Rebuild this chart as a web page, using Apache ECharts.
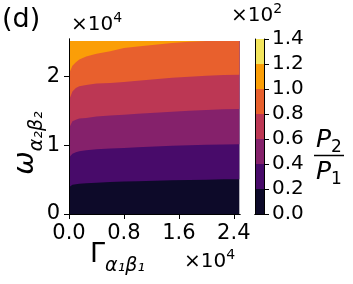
<!DOCTYPE html>
<html>
<head>
<meta charset="utf-8">
<script src="https://cdn.jsdelivr.net/npm/echarts@6/dist/echarts.min.js"></script>
<style>
  html, body { margin: 0; padding: 0; background: #fff; }
  #chart { width: 353px; height: 284px; }
</style>
</head>
<body>
<div id="chart"></div>
<script>
// Γ (x, units of 1e4) where each contour edge was read
const gamma = [0, 0.02, 0.05, 0.1, 0.15, 0.25, 0.4, 0.6, 0.8, 1.0, 1.25, 1.5, 1.75, 2.0, 2.25, 2.48];
// ω (y, units of 1e4) of the contour edges P2/P1 = 0.2 ... 1.0 (x1e2)
const edge02 = [0.39, 0.41, 0.425, 0.435, 0.44, 0.448, 0.455, 0.465, 0.472, 0.478, 0.485, 0.49, 0.495, 0.5, 0.505, 0.508];
const edge04 = [0.81, 0.845, 0.878, 0.9, 0.913, 0.93, 0.945, 0.955, 0.962, 0.972, 0.982, 0.993, 1.0, 1.008, 1.014, 1.018];
const edge06 = [1.26, 1.29, 1.35, 1.375, 1.39, 1.4, 1.42, 1.435, 1.445, 1.46, 1.475, 1.49, 1.505, 1.515, 1.525, 1.53];
const edge08 = [1.66, 1.71, 1.785, 1.835, 1.86, 1.88, 1.9, 1.91, 1.925, 1.94, 1.965, 1.985, 2.0, 2.013, 2.025, 2.03];
const edge10 = [2.05, 2.09, 2.16, 2.21, 2.25, 2.295, 2.335, 2.37, 2.42, 2.44, 2.465, 2.49, 2.51, 2.52, 2.52, 2.52];
const omegaTop = 2.52;
const levels = [0, 0.2, 0.4, 0.6, 0.8, 1.0, 1.2, 1.4];
const colors = ['#0d0a29', '#480b6a', '#85216b', '#bc3754', '#e8602d', '#fb9e07', '#f3e55d'];
const xTicks = [0, 0.8, 1.6, 2.4];
const yTicks = [0, 1, 2];

const FONT = 'DejaVu Sans';
const chart = echarts.init(document.getElementById('chart'));

const edges = [gamma.map(() => 0), edge02, edge04, edge06, edge08, edge10];
const fieldSeries = edges.map((e, i) => ({
  type: 'line',
  xAxisIndex: 0,
  yAxisIndex: 0,
  data: gamma.map((g, j) => [g, e[j]]),
  showSymbol: false,
  silent: true,
  lineStyle: { width: 0 },
  areaStyle: { color: colors[i], opacity: 1, origin: omegaTop },
  z: 2
}));

const barSeries = colors.map((c, i) => ({
  type: 'bar',
  xAxisIndex: 2,
  yAxisIndex: 2,
  stack: 'cb',
  data: [levels[i + 1] - levels[i]],
  barWidth: '100%',
  itemStyle: { color: c },
  silent: true,
  z: 2
}));

const lineOnly = { show: true, lineStyle: { color: '#000', width: 1 } };

// offset text like "×10⁴"
function offsetText(x, y, exp) {
  return {
    type: 'text', x: x, y: y,
    style: {
      text: '{b|×10}{s|' + exp + '}', fill: '#000',
      rich: {
        b: { fontSize: 20, fontFamily: FONT, lineHeight: 24, verticalAlign: 'bottom' },
        s: { fontSize: 14, fontFamily: FONT, lineHeight: 24, verticalAlign: 'top' }
      }
    }
  };
}

chart.setOption({
  animation: false,
  textStyle: { fontFamily: FONT },
  grid: [
    { left: 69, top: 39, width: 171, height: 175 },
    { left: 255, top: 39, width: 9, height: 175 }
  ],
  xAxis: [
    {
      type: 'value', gridIndex: 0, min: 0, max: 2.49, position: 'bottom', z: 10,
      axisLine: lineOnly,
      axisTick: { show: true, length: 5, lineStyle: { color: '#000' }, customValues: xTicks },
      axisLabel: { color: '#000', fontSize: 21, margin: 9, customValues: xTicks, formatter: v => v.toFixed(1) },
      splitLine: { show: false }
    },
    {
      type: 'value', gridIndex: 0, min: 0, max: 2.49, position: 'top', z: 10,
      axisLine: lineOnly, axisTick: { show: false }, axisLabel: { show: false }, splitLine: { show: false }
    },
    {
      type: 'category', gridIndex: 1, data: [''], position: 'bottom', z: 10,
      axisLine: lineOnly, axisTick: { show: false }, axisLabel: { show: false }
    },
    {
      type: 'category', gridIndex: 1, data: [''], position: 'top', z: 10,
      axisLine: lineOnly, axisTick: { show: false }, axisLabel: { show: false }
    }
  ],
  yAxis: [
    {
      type: 'value', gridIndex: 0, min: 0, max: 2.55, position: 'left', z: 10,
      axisLine: lineOnly,
      axisTick: { show: true, length: 5, lineStyle: { color: '#000' }, customValues: yTicks },
      axisLabel: { color: '#000', fontSize: 21, margin: 9, customValues: yTicks },
      splitLine: { show: false }
    },
    {
      type: 'value', gridIndex: 0, min: 0, max: 2.55, position: 'right', z: 10,
      axisLine: lineOnly, axisTick: { show: false }, axisLabel: { show: false }, splitLine: { show: false }
    },
    {
      type: 'value', gridIndex: 1, min: 0, max: 1.4, position: 'right', z: 10,
      axisLine: lineOnly,
      axisTick: { show: true, length: 5, lineStyle: { color: '#000' }, customValues: levels },
      axisLabel: { color: '#000', fontSize: 20, margin: 8, customValues: levels, formatter: v => v.toFixed(1) },
      splitLine: { show: false }
    },
    {
      type: 'value', gridIndex: 1, min: 0, max: 1.4, position: 'left', z: 10,
      axisLine: lineOnly, axisTick: { show: false }, axisLabel: { show: false }, splitLine: { show: false }
    }
  ],
  graphic: [
    { type: 'text', left: 2, top: 6, style: { text: '(d)', font: '27px "DejaVu Sans"', fill: '#000' } },
    offsetText(71, 11, '4'),
    offsetText(184, 248, '4'),
    offsetText(231, 2, '2'),
    {
      type: 'text', x: 90, y: 241,
      style: {
        text: '{g|Γ}{s|α₁β₁}', fill: '#000',
        rich: {
          g: { fontSize: 27, fontFamily: FONT, lineHeight: 35, verticalAlign: 'top' },
          s: { fontSize: 19, fontFamily: FONT, fontStyle: 'italic', lineHeight: 35, verticalAlign: 'bottom' }
        }
      }
    },
    {
      type: 'text', x: 29, y: 143, rotation: Math.PI / 2,
      style: {
        text: '{g|ω}{s|α₂β₂}', fill: '#000', align: 'center', verticalAlign: 'middle',
        rich: {
          g: { fontSize: 28, fontFamily: FONT, fontStyle: 'italic', lineHeight: 35, verticalAlign: 'top' },
          s: { fontSize: 19, fontFamily: FONT, fontStyle: 'italic', lineHeight: 35, verticalAlign: 'bottom' }
        }
      }
    },
    {
      type: 'text', x: 316, y: 128,
      style: {
        text: '{p|P}{s|2}', fill: '#000',
        rich: {
          p: { fontSize: 25, fontFamily: FONT, fontStyle: 'italic', lineHeight: 28, verticalAlign: 'top' },
          s: { fontSize: 17, fontFamily: FONT, lineHeight: 28, verticalAlign: 'bottom' }
        }
      }
    },
    { type: 'line', shape: { x1: 314, y1: 155.5, x2: 344, y2: 155.5 }, style: { stroke: '#000', lineWidth: 1.5 } },
    {
      type: 'text', x: 316, y: 160,
      style: {
        text: '{p|P}{s|1}', fill: '#000',
        rich: {
          p: { fontSize: 25, fontFamily: FONT, fontStyle: 'italic', lineHeight: 28, verticalAlign: 'top' },
          s: { fontSize: 17, fontFamily: FONT, lineHeight: 28, verticalAlign: 'bottom' }
        }
      }
    }
  ],
  series: fieldSeries.concat(barSeries)
});
</script>
</body>
</html>
